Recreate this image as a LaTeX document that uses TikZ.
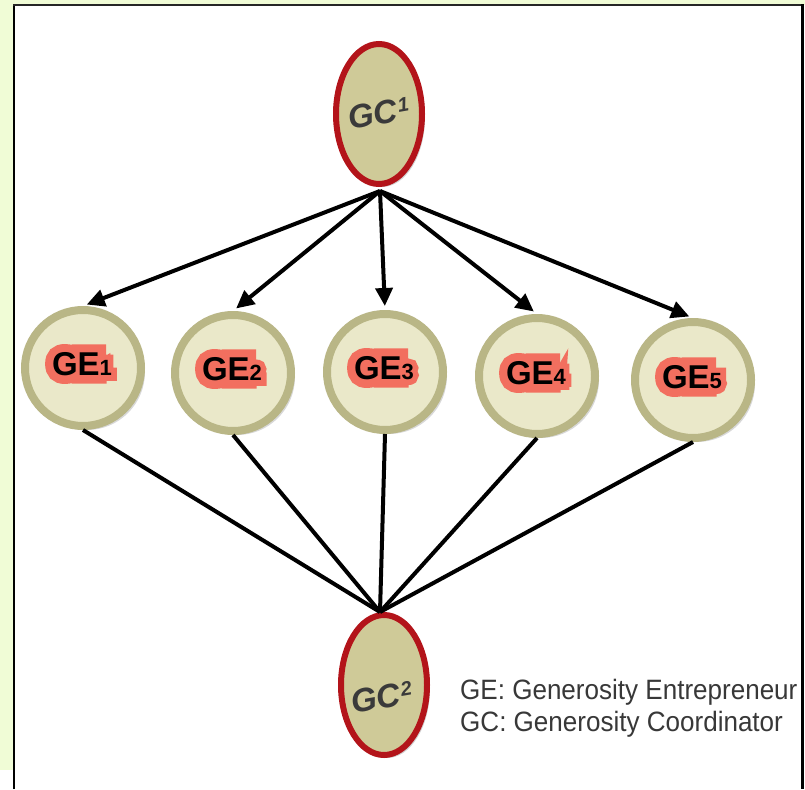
\documentclass[tikz,border=0pt]{standalone}
\usepackage{fontspec}
\setmainfont{Liberation Sans}
\newfontfamily\geglowfont[FakeBold=50]{Liberation Sans Bold}
\usetikzlibrary{arrows.meta,shapes.geometric,shadows,calc}
\definecolor{bgyellow}{HTML}{F0FCD6}
\definecolor{gcfill}{HTML}{CFCA98}
\definecolor{gcred}{HTML}{B3141A}
\definecolor{gefill}{HTML}{EAE8C9}
\definecolor{gering}{HTML}{B9B686}
\definecolor{glow}{HTML}{F26F5F}
\definecolor{gcgray}{HTML}{3A3A3A}
\definecolor{legendgray}{HTML}{383838}
\newcommand{\gedigit}[1]{{\fontsize{22}{22}\selectfont #1}}
\begin{document}
\begin{tikzpicture}[x=1pt,y=-1pt,
  gcnode/.style={ellipse, draw=gcred, line width=6pt, fill=gcfill, minimum width=86pt, minimum height=140pt, inner sep=0pt,
    drop shadow={shadow xshift=3pt, shadow yshift=-3pt, opacity=0.3, fill=black!60}},
  genode/.style={circle, draw=gering, line width=8pt, fill=gefill, minimum size=116pt, inner sep=0pt,
    drop shadow={shadow xshift=4pt, shadow yshift=-4pt, opacity=0.25, fill=black!60}},
  getext/.style={font=\fontsize{33}{33}\selectfont\bfseries, inner sep=0pt, text=black},
  geglowtext/.style={font=\fontsize{33}{33}\geglowfont, inner sep=0pt, text=glow},
  gctext/.style={font=\fontsize{33}{33}\selectfont\bfseries\itshape, inner sep=0pt, text=gcgray, rotate=10},
  link/.style={line width=4pt, black},
  arr/.style={link, -{Triangle[length=18pt,width=17pt]}, shorten >=4pt},
  legend/.style={font=\fontsize{28}{28}\selectfont, text=legendgray, anchor=base west, inner sep=0pt, xscale=0.93}
]
\useasboundingbox (0,0) rectangle (805,789);
% frame
\fill[bgyellow] (0,0) rectangle (805,789);
\fill[white] (14,5) rectangle (805,789);
\fill[white] (0,770) rectangle (14,789);
\draw[line width=2.5pt] (14,789) -- (14,5);
\draw[line width=2pt, black!85] (13,5) -- (803,5);
\draw[line width=3pt] (802,4) -- (802,789);

% coordinators
\node[gcnode] (gc1) at (379,114) {};
\node[gcnode] (gc2) at (384,685) {};
\coordinate (top) at ($(gc1.south)+(1,4)$);
\coordinate (bot) at ($(gc2.north)+(-4,0)$);

% entrepreneurs
\node[genode] (g1) at (83,368) {};
\node[genode] (g2) at (233,373) {};
\node[genode] (g3) at (385,372) {};
\node[genode] (g4) at (537,376) {};
\node[genode] (g5) at (693,380) {};

% connectors
\foreach \g in {g1,g2,g3,g4,g5}{
  \draw[arr] (top) -- (\g.north);
  \draw[link] (\g.south) -- (bot);
}

% GE labels
\foreach \i/\x/\y in {1/82/364, 2/232/369, 3/384/368, 4/536/373, 5/692/377}{
  \node[geglowtext] (h\i) at (\x,\y) {GE\gedigit{\i}};
  \node[getext] (t\i) at (\x,\y) {GE\gedigit{\i}};
}

% GC labels
\node[gctext] (gt1) at (379,113) {GC\kern1pt\raisebox{8pt}{\fontsize{20}{20}\selectfont 1}};
\node[gctext] (gt2) at (382,697) {GC\kern1pt\raisebox{8pt}{\fontsize{20}{20}\selectfont 2}};

% legend
\node[legend] (lg1) at (460,699) {GE: Generosity Entrepreneur};
\node[legend] (lg2) at (460,731) {GC: Generosity Coordinator};
\end{tikzpicture}
\end{document}
